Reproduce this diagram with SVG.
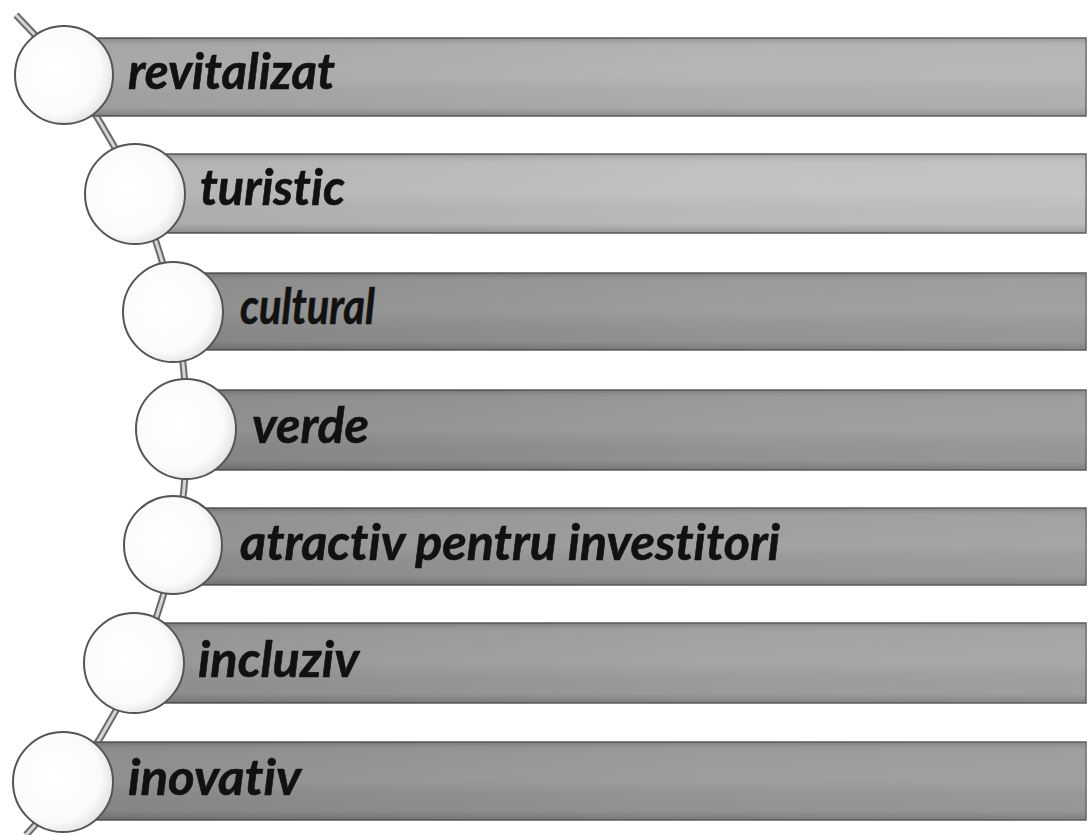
<svg xmlns="http://www.w3.org/2000/svg" width="1088" height="835" viewBox="0 0 1088 835">
<defs>
<linearGradient id="shade" x1="0" y1="0" x2="0" y2="1">
<stop offset="0" stop-color="#000" stop-opacity="0.18"/>
<stop offset="0.12" stop-color="#fff" stop-opacity="0.05"/>
<stop offset="0.5" stop-color="#fff" stop-opacity="0.08"/>
<stop offset="0.88" stop-color="#000" stop-opacity="0.02"/>
<stop offset="1" stop-color="#000" stop-opacity="0.2"/>
</linearGradient>
<linearGradient id="hl" x1="0" y1="0" x2="1" y2="0">
<stop offset="0" stop-color="#000" stop-opacity="0.05"/>
<stop offset="0.6" stop-color="#fff" stop-opacity="0.06"/>
<stop offset="1" stop-color="#fff" stop-opacity="0.1"/>
</linearGradient>
<radialGradient id="ball" cx="0.42" cy="0.45" r="0.6">
<stop offset="0" stop-color="#ffffff"/>
<stop offset="0.75" stop-color="#fbfbfb"/>
<stop offset="1" stop-color="#e2e2e2"/>
</radialGradient>
</defs>
<style>
.bar{stroke:#5e5e5e;stroke-width:1.5}
.ov{fill:url(#shade)}
.ov2{fill:url(#hl)}
.ball{fill:url(#ball);stroke:#555;stroke-width:2}
.lbl{font-family:Lato,"Open Sans","Liberation Sans",sans-serif;font-weight:bold;font-style:italic;font-size:50px;fill:#111;font-variant-ligatures:none;font-feature-settings:"liga" 0,"clig" 0;stroke:#111;stroke-width:0.6}
</style>
<rect width="1088" height="835" fill="#fff"/>
<g id="connectors">
<path d="M 16 15 A 590 590 0 0 1 26 835" fill="none" stroke="#6a6a6a" stroke-width="7"/>
<path d="M 16 15 A 590 590 0 0 1 26 835" fill="none" stroke="#d6d6d6" stroke-width="3"/>
</g>
<g id="node1">
<rect class="bar" x="64" y="38" width="1022" height="78" fill="#aaaaaa"/>
<rect class="ov" x="64" y="38" width="1022" height="78"/>
<rect class="ov2" x="64" y="38" width="1022" height="78"/>
<circle class="ball" cx="64" cy="75" r="49"/>
<text class="lbl" x="128" y="89" textLength="207" lengthAdjust="spacingAndGlyphs">revitalizat</text>
</g>
<g id="node2">
<rect class="bar" x="135" y="154" width="951" height="79" fill="#b9b9b9"/>
<rect class="ov" x="135" y="154" width="951" height="79"/>
<rect class="ov2" x="135" y="154" width="951" height="79"/>
<circle class="ball" cx="135" cy="194" r="50"/>
<text class="lbl" x="200" y="205" textLength="145" lengthAdjust="spacingAndGlyphs">turistic</text>
</g>
<g id="node3">
<rect class="bar" x="173" y="273" width="913" height="77" fill="#8f8f8f"/>
<rect class="ov" x="173" y="273" width="913" height="77"/>
<rect class="ov2" x="173" y="273" width="913" height="77"/>
<circle class="ball" cx="173" cy="312" r="50"/>
<text class="lbl" x="240" y="324" textLength="135" lengthAdjust="spacingAndGlyphs">cultural</text>
</g>
<g id="node4">
<rect class="bar" x="186" y="390" width="900" height="80" fill="#8e8e8e"/>
<rect class="ov" x="186" y="390" width="900" height="80"/>
<rect class="ov2" x="186" y="390" width="900" height="80"/>
<circle class="ball" cx="186" cy="429" r="50"/>
<text class="lbl" x="252" y="443" textLength="117" lengthAdjust="spacingAndGlyphs">verde</text>
</g>
<g id="node5">
<rect class="bar" x="173" y="508" width="913" height="77" fill="#939393"/>
<rect class="ov" x="173" y="508" width="913" height="77"/>
<rect class="ov2" x="173" y="508" width="913" height="77"/>
<circle class="ball" cx="173" cy="545" r="49"/>
<text class="lbl" x="240" y="560" textLength="540" lengthAdjust="spacingAndGlyphs">atractiv pentru investitori</text>
</g>
<g id="node6">
<rect class="bar" x="134" y="623" width="952" height="80" fill="#979797"/>
<rect class="ov" x="134" y="623" width="952" height="80"/>
<rect class="ov2" x="134" y="623" width="952" height="80"/>
<circle class="ball" cx="134" cy="663" r="50"/>
<text class="lbl" x="198" y="677" textLength="161" lengthAdjust="spacingAndGlyphs">incluziv</text>
</g>
<g id="node7">
<rect class="bar" x="63" y="742" width="1023" height="78" fill="#8e8e8e"/>
<rect class="ov" x="63" y="742" width="1023" height="78"/>
<rect class="ov2" x="63" y="742" width="1023" height="78"/>
<circle class="ball" cx="63" cy="782" r="50"/>
<text class="lbl" x="128" y="795" textLength="173" lengthAdjust="spacingAndGlyphs">inovativ</text>
</g>
</svg>
